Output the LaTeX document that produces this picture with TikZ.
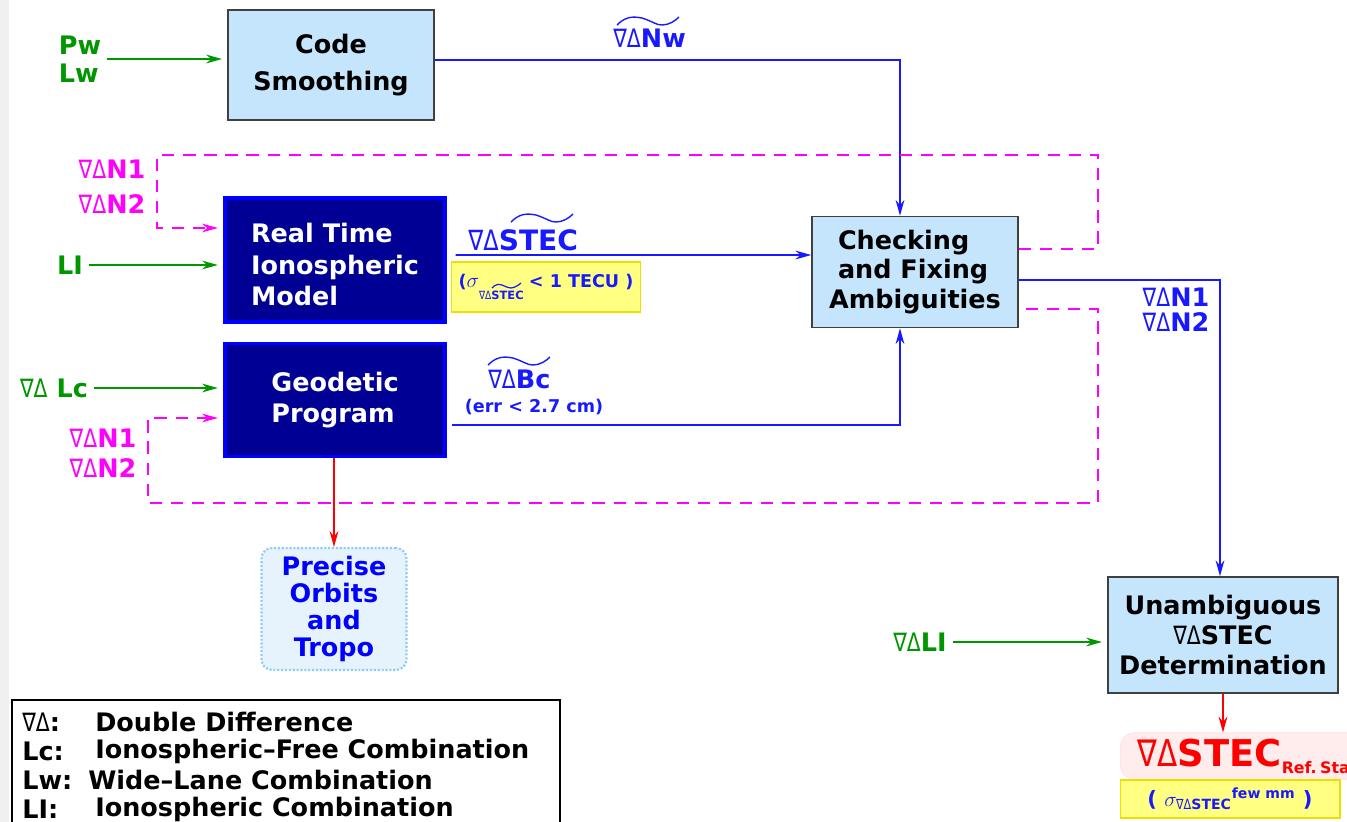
\documentclass[tikz,border=0pt]{standalone}
\usepackage{amsmath}
\usepackage{graphicx}
\usepackage{fontspec}
\setmainfont{DejaVu Sans}
\usetikzlibrary{arrows.meta,positioning}

\definecolor{boxblue}{RGB}{196,229,251}
\definecolor{navy}{RGB}{0,0,148}
\definecolor{ingreen}{RGB}{0,150,0}
\definecolor{fbmag}{RGB}{255,0,255}
\definecolor{flowblue}{RGB}{25,25,255}
\definecolor{notey}{RGB}{255,255,130}
\definecolor{noteedge}{RGB}{235,225,0}
\definecolor{pinkfill}{RGB}{255,236,236}
\definecolor{orbfill}{RGB}{230,243,253}
\definecolor{orbedge}{RGB}{140,205,245}

% double difference sign
\newcommand{\DD}{\scalebox{0.8}[1]{\mdseries ∇Δ}}
% wavy bar over a flow label, starting at #1
\newcommand{\wavebar}[1]{\draw[flowblue, line width=0.8pt] (#1)
  .. controls +(8,-8) and +(-10,-2) .. ++(25,-7)
  .. controls +(12,4) and +(-6,0) .. ++(20,7)
  .. controls +(7,0) and +(-4,4) .. ++(17,-8);}

\tikzset{
  txt/.style={font=\fontsize{14.5}{17}\selectfont\bfseries},
  light/.style={txt, draw=black!75, fill=boxblue, line width=0.9pt,
    minimum width=4.12cm, minimum height=2.2cm, align=center},
  dark/.style={txt, draw=blue, fill=navy, line width=2.2pt, text=white,
    minimum width=4.4cm, align=left},
  note/.style={fill=notey, draw=noteedge, line width=0.6pt, text=flowblue,
    font=\fontsize{10}{12}\selectfont\bfseries},
  inp/.style={txt, text=ingreen},
  fblbl/.style={txt, text=fbmag, align=left},
  flowlbl/.style={txt, text=flowblue, anchor=base west, inner sep=0pt},
  inarr/.style={->, ingreen, line width=0.9pt, shorten >=3pt},
  flow/.style={->, flowblue, line width=1pt},
  fb/.style={->, fbmag, line width=0.9pt, dash pattern=on 7pt off 5pt, shorten >=3pt},
  outarr/.style={->, red, line width=1pt}
}

\begin{document}
\begin{tikzpicture}[x=0.02cm, y=-0.02cm, >={Stealth[length=9pt,width=5pt]}]
  \useasboundingbox (0,0) rectangle (1347,822);
  \fill[gray!12] (0,0) rectangle (9,822);

  % processing boxes
  \node[light, font=\fontsize{14.5}{21}\selectfont\bfseries] (cs) at (331,65) {Code\\Smoothing};
  \node[dark, minimum height=2.48cm] (rtm) at (335,260)
    {\rule{0pt}{16.5pt}Real Time\\[1pt]Ionospheric\\[1pt]Model};
  \node[dark, minimum height=2.26cm] (geo) at (335,400)
    {Geodetic\\[1pt]Program};
  \node[light, minimum height=2.22cm, align=left] (chk) at (915,272)
    {\ Checking\\\ and Fixing\\Ambiguities};
  \node[light, minimum width=4.6cm, minimum height=2.32cm] (unam) at (1223,635)
    {Unambiguous\\\DD STEC\\Determination};
  \node[txt, text=blue, fill=orbfill, draw=orbedge, densely dotted, line width=1.2pt,
    rounded corners=6pt, minimum width=2.9cm, minimum height=2.44cm, align=center,
    font=\fontsize{14.5}{15.2}\selectfont\bfseries] (orb) at (334,609)
    {Precise\\Orbits\\and\\Tropo};

  % inputs
  \node[inp, align=left, font=\fontsize{14.5}{16}\selectfont\bfseries] (pw) at (80,59) {Pw\\Lw};
  \node[inp] (li) at (70,265) {LI};
  \node[inp] (lc) at (54,388) {\DD\ Lc};
  \node[inp] (dli) at (920,642) {\DD LI};
  \draw[inarr] (pw.east) -- (pw.east -| cs.west);
  \draw[inarr] (li.east) -- (li.east -| rtm.west);
  \draw[inarr] (lc.east) -- (lc.east -| geo.west);
  \draw[inarr] (dli.east) -- (dli.east -| unam.west);

  % main flow
  \node[flowlbl] (nw) at (613,47) {\DD Nw};
  \wavebar{[shift={(4,-22)}]nw.base west}
  \node[flowlbl, font=\fontsize{16}{17}\selectfont\bfseries] (stec) at (468,250) {\DD STEC};
  \wavebar{[shift={(43,-28)}]stec.base west}
  \node[note, minimum width=3.78cm, minimum height=1cm, inner xsep=2pt] (sig1) at (546,287)
    {({\fontsize{13}{14}\selectfont$\sigma$}\raisebox{-1.3ex}{\fontsize{6.5}{7}\selectfont\DD STEC}\kern3pt< 1 TECU )};
  \draw[flowblue, line width=0.7pt] ([shift={(41,1)}]sig1.west)
    .. controls +(4,-4) and +(-4,-1) .. ++(10,-3)
    .. controls +(5,2) and +(-3,0) .. ++(9,3)
    .. controls +(3,0) and +(-2,2) .. ++(10,-5);
  \node[flowlbl] (bc) at (488,388) {\DD Bc};
  \wavebar{[shift={(0,-23)}]bc.base west}
  \node[text=flowblue, font=\fontsize{10}{12}\selectfont\bfseries] (err) at (534,407) {(err < 2.7 cm)};
  \node[txt, text=flowblue, align=left, font=\fontsize{14.5}{14}\selectfont\bfseries] (amb) at (1176,310) {\DD N1\\\DD N2};

  \draw[flow] (cs.east |- 0,60) -| ([xshift=-0.3cm]chk.north);
  \draw[flow, shorten <=5pt] ([yshift=0.1cm]rtm.east) -- ([yshift=0.34cm]chk.west);
  \draw[flow, shorten <=3pt] ([yshift=-0.5cm]geo.east) -| ([xshift=-0.3cm]chk.south);
  \draw[flow] ([yshift=-0.16cm]chk.east) -| ([xshift=-0.06cm]unam.north);

  % ambiguities fed back
  \node[fblbl, font=\fontsize{14.5}{20}\selectfont\bfseries] (fb1) at (112,187) {\DD N1\\\DD N2};
  \node[fblbl] (fb2) at (103,453) {\DD N1\\\DD N2};
  \draw[fb] ([yshift=0.46cm]chk.east) -- ++(79,0) |- (157,155) |- ([yshift=0.64cm]rtm.west);
  \draw[fb, shorten <=4pt] ([yshift=-0.74cm]chk.east) -- ++(79,0) |- (148,503) |- ([yshift=-0.36cm]geo.west);

  % products
  \draw[outarr] (geo.south -| orb.north) -- (orb.north);
  \node[fill=pinkfill, draw=red!12, rounded corners=8pt, anchor=west,
    text width=4.8cm, inner xsep=0.35cm, minimum height=0.76cm, align=left,
    text=red, font=\fontsize{21}{22}\selectfont\bfseries] (ref) at (1120,756)
    {\DD STEC\raisebox{-0.35ex}{\fontsize{9}{10}\selectfont Ref.\kern2pt Sta}};
  \node[note, minimum width=4.4cm, minimum height=0.76cm, font=\fontsize{12}{13}\selectfont\bfseries] (sig2) at (1230,799)
    {( $\sigma_{\text{\DD STEC}}{}^{\text{few mm}}$ )};
  \draw[outarr] (unam.south) -- (unam.south |- ref.north);

  % legend
  \draw[line width=0.8pt, fill=white] (12,700) rectangle (560,840);
  \foreach \k/\t/\xt/\y [count=\i] in {{\DD:}/Double Difference/95/722,
      Lc:/Ionospheric--Free Combination/95/751,
      Lw:/Wide--Lane Combination/88/780,
      LI:/Ionospheric Combination/95/809} {
    \node[txt, anchor=west, inner sep=0pt] (key\i) at (22,\y) {\k};
    \node[txt, anchor=west, inner sep=0pt] (def\i) at (\xt,\y) {\t};
  }
\end{tikzpicture}
\end{document}
